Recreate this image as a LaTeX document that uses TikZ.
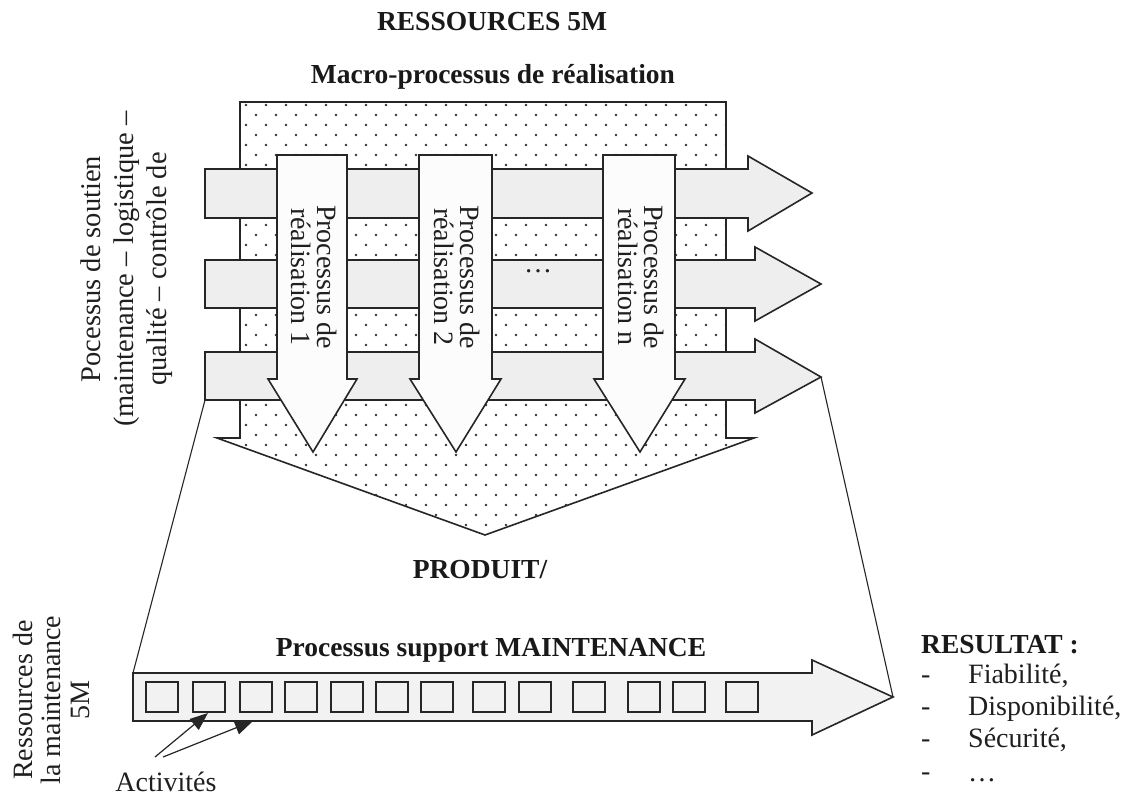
\documentclass[tikz,border=0pt]{standalone}
\usepackage{fontspec}
\setmainfont{Liberation Serif}
\usetikzlibrary{arrows.meta}
\newcommand\regf{\fontsize{28}{33}\selectfont}
\newcommand\boldf{\fontsize{27.5}{33}\selectfont\bfseries}
\definecolor{edge}{gray}{0.15}
\definecolor{hfill}{gray}{0.935}
\definecolor{vfill}{gray}{0.99}
\definecolor{mfill}{gray}{0.95}
\definecolor{dotc}{gray}{0.2}
\begin{document}
\begin{tikzpicture}[x=1pt,y=-1pt,
  outline/.style={draw=edge, line width=1.6pt, line join=miter},
  harrow/.style={outline, fill=hfill},
  varrow/.style={outline, fill=vfill},
  thinline/.style={draw=edge, line width=1.1pt},
  lbl/.style={inner sep=0pt, font=\regf, text=black!88},
  ttl/.style={inner sep=0pt, font=\boldf, text=black!90},
  actbox/.style={draw=edge, line width=1.5pt},
  pointer/.style={draw=edge, line width=1.2pt, -{Triangle[length=18pt,width=14pt]}}
]
\useasboundingbox (0,0) rectangle (1142,795);
\fill[white] (0,0) rectangle (1142,795);

% connector lines of the zoom trapezoid
\coordinate (h3bl) at (205,400);
\coordinate (h3tip) at (821,377);
\coordinate (mtl) at (133,673);
\coordinate (mtip) at (893,697);
\draw[thinline] (h3bl) -- (mtl);
\draw[thinline] (h3tip) -- (mtip);

% big dotted macro-process arrow
\fill[white] (240,102) -- (726,102) -- (726,438) -- (754,438) -- (485,535) -- (217,438) -- (240,438) -- cycle;
\begin{scope}
  \clip (240,102) -- (726,102) -- (726,438) -- (754,438) -- (485,535) -- (217,438) -- (240,438) -- cycle;
  \foreach \r in {0,...,43}{
    \pgfmathtruncatemacro\xo{mod(\r,2)*10}
    \foreach \c in {0,...,27}{
      \fill[dotc] ({226+\xo+20*\c},{105+10*\r}) circle[radius=1.4pt];
    }
  }
\end{scope}
\draw[outline] (240,102) -- (726,102) -- (726,438) -- (754,438) -- (485,535) -- (217,438) -- (240,438) -- cycle;

% horizontal support-process arrows
\draw[harrow] (205,169) -- (748,169) -- (748,156) -- (812,193) -- (748,231) -- (748,218) -- (205,218) -- cycle;
\draw[harrow] (205,260) -- (755,260) -- (755,247) -- (821,284) -- (755,321) -- (755,308) -- (205,308) -- cycle;
\draw[harrow] (205,352) -- (755,352) -- (755,339) -- (821,377) -- (755,413) -- (755,400) -- (205,400) -- cycle;

% vertical realisation arrows
\draw[varrow] (277,155) -- (347,155) -- (347,379) -- (357,379) -- (313,452) -- (268,379) -- (277,379) -- cycle;
\draw[varrow] (419,155) -- (492,155) -- (492,379) -- (501,379) -- (456,452) -- (410,379) -- (419,379) -- cycle;
\draw[varrow] (603,155) -- (675,155) -- (675,379) -- (685,379) -- (640,452) -- (594,379) -- (603,379) -- cycle;

\node[lbl, rotate=-90, align=center, font=\fontsize{28}{26}\selectfont] (p1) at (314,277) {Processus de\\réalisation 1};
\node[lbl, rotate=-90, align=center, font=\fontsize{28}{26}\selectfont] (p2) at (457,277) {Processus de\\réalisation 2};
\node[lbl, rotate=-90, align=center, font=\fontsize{28}{26}\selectfont] (pn) at (641,277) {Processus de\\réalisation n};
\node[lbl, anchor=base] (dots) at (538,272) {…};

% maintenance support arrow
\draw[outline, fill=mfill] (133,673) -- (812,673) -- (812,660) -- (893,697) -- (812,735) -- (812,721) -- (133,721) -- cycle;
\foreach \x [count=\i] in {146,193,240,285,331,376,421,473,519,573,628,673,726}{
  \draw[actbox] (\x,682) rectangle ++(32,30) coordinate (sq\i);
}

% activities pointers
\node[lbl, anchor=base] (act) at (166,791) {Activités};
\coordinate (a1) at (155,757);
\coordinate (a2) at (163,757);
\coordinate (t1) at (208,713);
\coordinate (t2) at (253,721);
\draw[pointer] (a1) -- (t1);
\draw[pointer] (a2) -- (t2);

% titles
\node[ttl, anchor=base] (res) at (492,30) {RESSOURCES 5M};
\node[ttl, anchor=base] (macro) at (493,83) {Macro-processus de réalisation};
\node[ttl, anchor=base] (prod) at (480,578) {PRODUIT/};
\node[ttl, anchor=base] (supp) at (491,656) {Processus support MAINTENANCE};

% side labels
\node[lbl, rotate=90, align=center, font=\fontsize{28.5}{33}\selectfont] (sout) at (127,269)
  {Pocessus de soutien\\(maintenance – logistique –\\qualité – contrôle de};
\node[lbl, rotate=90, align=center, font=\fontsize{28}{28.5}\selectfont] (rm) at (51,700)
  {Ressources de\\la maintenance\\5M};

% result list
\node[ttl, anchor=base west] (resul) at (921,653) {RESULTAT :};
\node[lbl, anchor=base west] (d1) at (921,683) {-};
\node[lbl, anchor=base west] (i1) at (968,683) {Fiabilité,};
\node[lbl, anchor=base west] (d2) at (921,715) {-};
\node[lbl, anchor=base west] (i2) at (968,715) {Disponibilité,};
\node[lbl, anchor=base west] (d3) at (921,747) {-};
\node[lbl, anchor=base west] (i3) at (968,747) {Sécurité,};
\node[lbl, anchor=base west] (d4) at (921,780) {-};
\node[lbl, anchor=base west] (i4) at (968,781) {…};
\end{tikzpicture}
\end{document}
